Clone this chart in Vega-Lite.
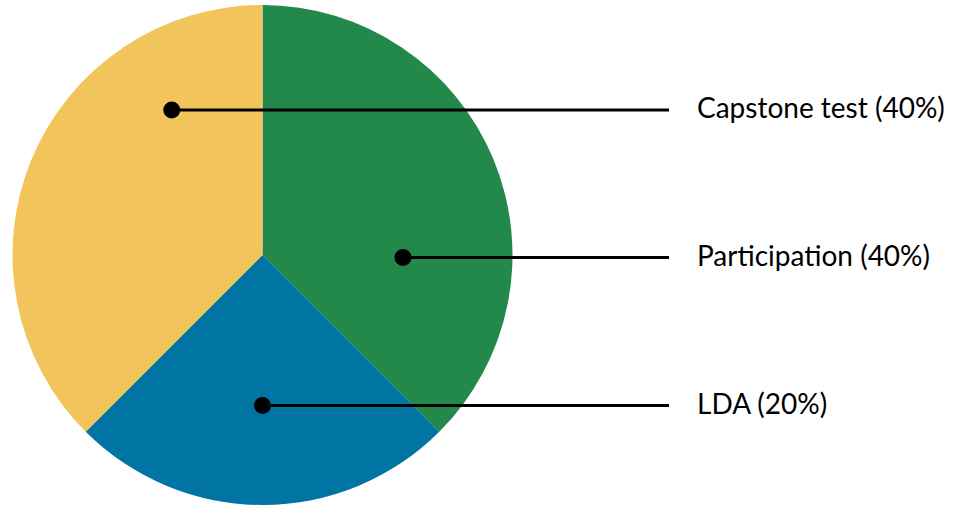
{
  "$schema": "https://vega.github.io/schema/vega-lite/v6.json",
  "width": 958,
  "height": 508,
  "padding": 0,
  "autosize": {"type": "fit", "contains": "padding"},
  "background": "white",
  "view": {"stroke": null},
  "data": {
    "values": [
      {"category": "Participation", "label": "Participation (40%)", "share": 37.5, "order": 1, "dot_x": 0.562, "dot_y": -0.01},
      {"category": "LDA", "label": "LDA (20%)", "share": 25, "order": 2, "dot_x": 0.0, "dot_y": -0.602},
      {"category": "Capstone test", "label": "Capstone test (40%)", "share": 37.5, "order": 3, "dot_x": -0.363, "dot_y": 0.58}
    ]
  },
  "layer": [
    {
      "mark": {"type": "arc", "radius": 250, "stroke": null},
      "encoding": {
        "x": {"datum": 0, "type": "quantitative", "scale": {"domain": [-1.05, 2.782], "nice": false, "zero": false}, "axis": null},
        "y": {"datum": 0, "type": "quantitative", "scale": {"domain": [-1.012, 1.02], "nice": false, "zero": false}, "axis": null},
        "theta": {"field": "share", "type": "quantitative", "stack": true},
        "order": {"field": "order", "type": "quantitative"},
        "color": {
          "field": "category",
          "type": "nominal",
          "scale": {"domain": ["Participation", "LDA", "Capstone test"], "range": ["#23894a", "#0075a3", "#f2c45c"]},
          "legend": null
        }
      }
    },
    {
      "mark": {"type": "rule", "color": "black", "strokeWidth": 3},
      "encoding": {
        "x": {"field": "dot_x", "type": "quantitative"},
        "x2": {"datum": 1.626},
        "y": {"field": "dot_y", "type": "quantitative"}
      }
    },
    {
      "mark": {"type": "point", "filled": true, "color": "black", "opacity": 1, "size": 290},
      "encoding": {
        "x": {"field": "dot_x", "type": "quantitative"},
        "y": {"field": "dot_y", "type": "quantitative"}
      }
    },
    {
      "mark": {"type": "text", "align": "left", "baseline": "middle", "font": "Lato", "fontSize": 28, "color": "black", "dx": 0},
      "encoding": {
        "x": {"datum": 1.738, "type": "quantitative"},
        "y": {"field": "dot_y", "type": "quantitative"},
        "text": {"field": "label"}
      }
    }
  ]
}
